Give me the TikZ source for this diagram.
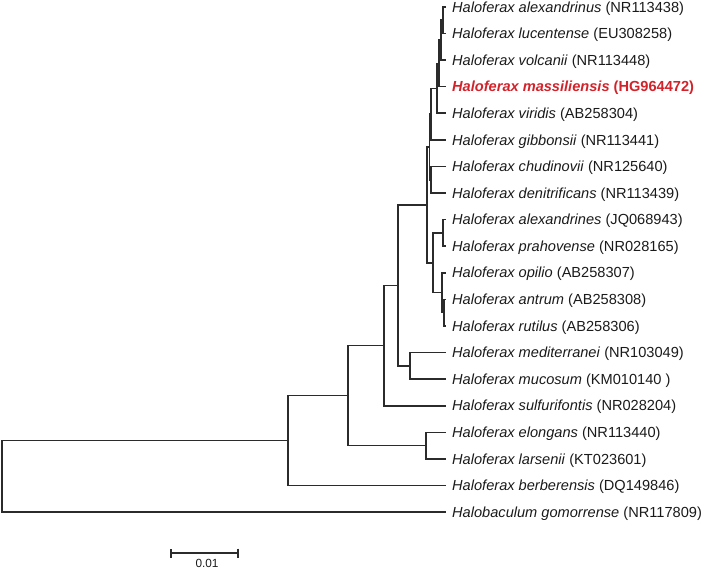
\documentclass[tikz,border=0pt]{standalone}
\usepackage{fontspec}
\setmainfont{Liberation Sans}
\usetikzlibrary{arrows.meta,positioning}
\definecolor{ink}{HTML}{1A1A1A}
\definecolor{edge}{HTML}{2B2B2B}
\definecolor{hilite}{HTML}{D2232A}
\newcommand{\taxon}[2]{\textit{#1} (#2)}

\begin{document}
\begin{tikzpicture}[x=1pt,y=-1pt,font=\fontsize{14.6}{16}\selectfont,
  br/.style={draw=edge,line width=1.6pt},
  lf/.style={anchor=west,inner xsep=6pt,inner ysep=0pt,text height=10.4pt,text depth=0pt,text=ink}]
\useasboundingbox (0,0) rectangle (704,569);
% leaves
\node[lf] (alx) at (446,7) {\taxon{Haloferax alexandrinus}{NR113438}};
\node[lf] (luc) at (446,33.6) {\taxon{Haloferax lucentense}{EU308258}};
\node[lf] (vol) at (446,60.2) {\taxon{Haloferax volcanii}{NR113448}};
\node[lf,text=hilite] (mas) at (446,86.7) {\textbf{\textit{Haloferax massiliensis} (HG964472)}};
\node[lf] (vir) at (446,113.3) {\taxon{Haloferax viridis}{AB258304}};
\node[lf] (gib) at (446,139.9) {\taxon{Haloferax gibbonsii}{NR113441}};
\node[lf] (chu) at (446,166.5) {\taxon{Haloferax chudinovii}{NR125640}};
\node[lf] (den) at (446,193.1) {\taxon{Haloferax denitrificans}{NR113439}};
\node[lf] (als) at (446,219.6) {\taxon{Haloferax alexandrines}{JQ068943}};
\node[lf] (pra) at (446,246.2) {\taxon{Haloferax prahovense}{NR028165}};
\node[lf] (opi) at (446,272.8) {\taxon{Haloferax opilio}{AB258307}};
\node[lf] (ant) at (446,299.4) {\taxon{Haloferax antrum}{AB258308}};
\node[lf] (rut) at (446,326) {\taxon{Haloferax rutilus}{AB258306}};
\node[lf] (med) at (446,352.5) {\taxon{Haloferax mediterranei}{NR103049}};
\node[lf] (muc) at (446,379.1) {\taxon{Haloferax mucosum}{KM010140 }};
\node[lf] (sul) at (446,405.7) {\taxon{Haloferax sulfurifontis}{NR028204}};
\node[lf] (elo) at (446,432.3) {\taxon{Haloferax elongans}{NR113440}};
\node[lf] (lar) at (446,458.9) {\taxon{Haloferax larsenii}{KT023601}};
\node[lf] (ber) at (446,485.4) {\taxon{Haloferax berberensis}{DQ149846}};
\node[lf] (gom) at (446,512) {\taxon{Halobaculum gomorrense}{NR117809}};
% inner nodes
\coordinate (n1) at (443,20.3);
\coordinate (n2) at (441,40.2);
\coordinate (n3) at (439,63.5);
\coordinate (n4) at (437,88.4);
\coordinate (n5a) at (431,114.2);
\coordinate (n5b) at (431,179.8);
\coordinate (n5) at (429.5,147);
\coordinate (n8) at (443,232.9);
\coordinate (n10) at (444,312.7);
\coordinate (n9) at (442,292.7);
\coordinate (n7) at (433,262.8);
\coordinate (n6) at (427,204.9);
\coordinate (n11) at (410,365.8);
\coordinate (nA) at (398,285.4);
\coordinate (nB) at (384,345.5);
\coordinate (nE) at (426,445.6);
\coordinate (nC) at (348,395.6);
\coordinate (nD) at (288,440.5);
\coordinate (root) at (2,476.2);
% branches
\draw[br] (alx.west) -| (n1) |- (luc.west);
\draw[br] (n1) -| (n2) |- (vol.west);
\draw[br] (n2) -| (n3) |- (mas.west);
\draw[br] (n3) -| (n4) |- (vir.west);
\draw[br] (n4) -| (n5a) |- (gib.west);
\draw[br] (chu.west) -| (n5b) |- (den.west);
\draw[br] (n5a) -| (n5) |- (n5b);
\draw[br] (als.west) -| (n8) |- (pra.west);
\draw[br] (ant.west) -| (n10) |- (rut.west);
\draw[br] (opi.west) -| (n9) |- (n10);
\draw[br] (n8) -| (n7) |- (n9);
\draw[br] (n5) -| (n6) |- (n7);
\draw[br] (med.west) -| (n11) |- (muc.west);
\draw[br] (n6) -| (nA) |- (n11);
\draw[br] (nA) -| (nB) |- (sul.west);
\draw[br] (elo.west) -| (nE) |- (lar.west);
\draw[br] (nB) -| (nC) |- (nE);
\draw[br] (nC) -| (nD) |- (ber.west);
\draw[br] (nD) -| (root) |- (gom.west);
% scale bar
\coordinate (sbl) at (170,553);
\coordinate (sbr) at (239,553);
\draw[br,{Bar[width=9pt]}-{Bar[width=9pt]}] (sbl) -- (sbr);
\node[anchor=base,font=\fontsize{11.8}{13}\selectfont,text=ink] (sblab) at (207,567.5) {0.01};
\end{tikzpicture}
\end{document}
